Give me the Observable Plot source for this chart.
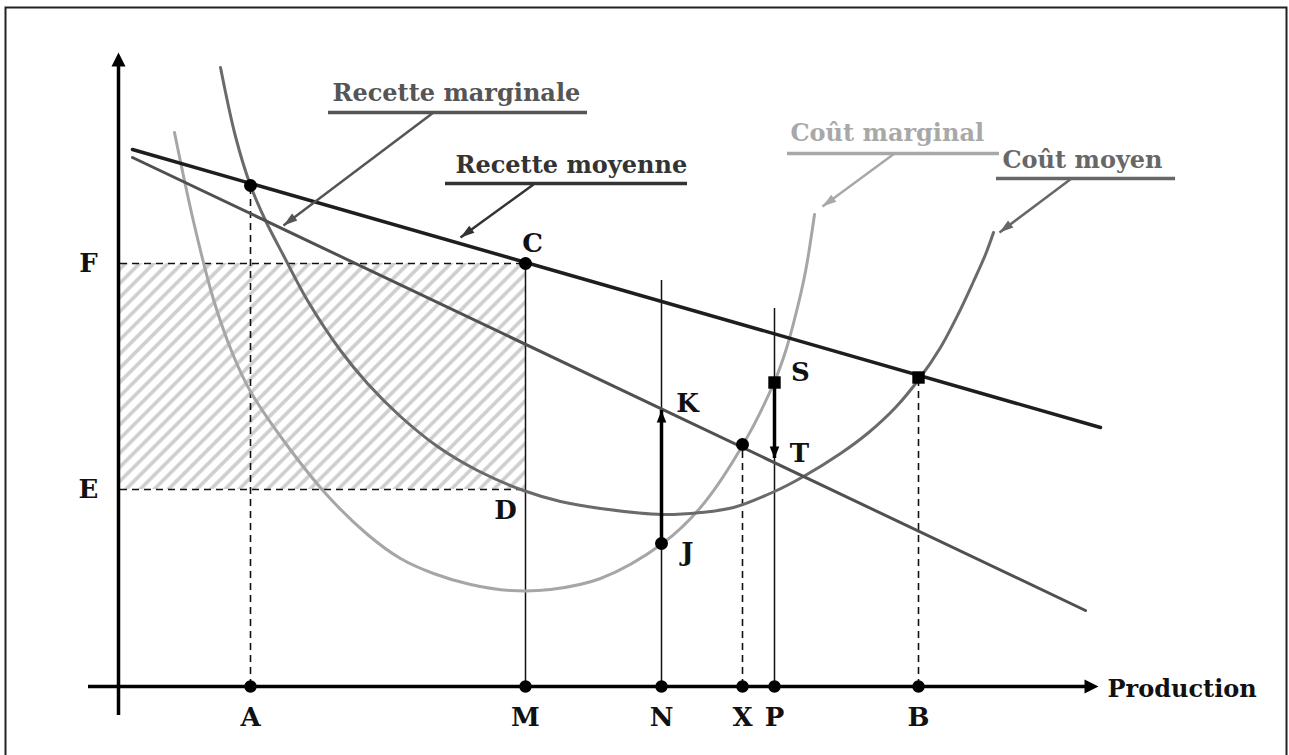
<!DOCTYPE html>
<html><head><meta charset="utf-8">
<script src="https://cdn.jsdelivr.net/npm/d3@7"></script>
<script src="https://cdn.jsdelivr.net/npm/@observablehq/plot@0.6"></script>
<style>html,body{margin:0;padding:0;background:#fff;overflow:hidden}</style>
</head><body><div id="chart"></div>
<script>
// ---------- data (production q, price/cost v) ----------
const axisLetters = ["A", "M", "N", "X", "P", "B"];
const axisQ = [13.2, 40.7, 54.3, 62.4, 65.6, 80.0];

const levelLetters = ["F", "E"];
const levelV = [42.3, 19.7];

// Recette moyenne (demand) and Recette marginale lines
const recMoyQ = [1.4, 98.2];
const recMoyV = [53.7, 25.9];
const recMargQ = [1.4, 96.7];
const recMargV = [52.9, 7.6];

// Coût marginal curve
const coutMargQ = [5.6, 7.5, 9.5, 11.4, 13.2, 16.5, 20.8, 24.9, 28.2, 31.5, 35.2, 39.2, 43.2, 48.2, 54.4, 58.2, 62.4, 65.6, 66.7, 67.8, 68.7, 69.6];
const coutMargV = [55.4, 46.5, 38.7, 33.3, 29.5, 24.6, 19.2, 15.2, 12.8, 11.3, 10.2, 9.6, 9.7, 10.8, 14.3, 17.9, 24.1, 30.5, 33.5, 37.5, 41.5, 47.2];

// Coût moyen curve
const coutMoyQ = [10.2, 11.7, 13.2, 14.7, 16.5, 18.9, 22.2, 24.9, 28.2, 31.9, 35.9, 40.5, 44.2, 48.2, 54.4, 58.2, 61.5, 65.6, 68.5, 72.2, 74.9, 77.7, 80.1, 82.2, 84.0, 85.5, 86.7, 87.5];
const coutMoyV = [61.9, 55.0, 50.1, 46.6, 43.1, 38.6, 33.6, 30.3, 27.0, 24.0, 21.6, 19.6, 18.5, 17.8, 17.2, 17.4, 17.9, 19.5, 21.0, 23.3, 25.3, 27.9, 30.8, 33.9, 37.3, 40.5, 43.2, 45.4];

// marked points
const roundQ = [13.2, 40.7, 62.4, 54.3];
const roundV = [50.1, 42.3, 24.2, 14.3];
const squareQ = [65.6, 80.0];
const squareV = [30.4, 30.9];

// vertical guides
const dashedQ = [13.2, 62.4, 80.0];
const dashedTop = [50.1, 24.2, 30.9];
const solidQ = [40.7, 54.3, 65.6];
const solidTop = [42.3, 40.6, 37.8];

// thick arrows J->K (up) and S->T (down)
const moveQ = [54.3, 65.6];
const moveFrom = [14.3, 30.4];
const moveTo = [27.6, 22.8];

// point letters
const pointLetters = ["C", "K", "J", "S", "T", "D"];
const pointQ = [41.4, 56.9, 56.9, 68.2, 68.1, 38.7];
const pointV = [44.3, 28.3, 13.4, 31.4, 23.3, 17.6];

// curve labels
const labelTexts = ["Recette marginale", "Recette moyenne", "Coût marginal", "Coût moyen"];
const labelColors = ["#555555", "#333333", "#a8a8a8", "#676767"];
const labelQ = [45.5, 56.9, 88.85, 108.4].map((v, i) => v); // right edges of labels
const labelV = [59.3, 52.1, 55.3, 52.6];
const underlineV = [57.4, 50.3, 53.3, 50.8];
const underlineQ1 = [21.0, 32.7, 66.9, 87.8];
const underlineQ2 = [46.9, 56.9, 88.1, 105.7];
const pointerFromQ = [31.5, 41.5, 77.6, 95.3];
const pointerFromV = [57.4, 50.2, 53.3, 50.8];
const pointerToQ = [16.5, 34.2, 70.4, 88.1];
const pointerToV = [46.1, 44.9, 48.0, 45.4];
const labelLeftQ = [21.4, 33.7, 67.2, 88.4];

// ---------- build tables ----------
const pts = (Q, V) => Q.map((q, i) => ({q, v: V[i]}));
const labels = labelTexts.map((t, i) => ({
  t, color: labelColors[i], q: labelLeftQ[i], v: labelV[i], uv: underlineV[i],
  q1: underlineQ1[i], q2: underlineQ2[i],
  fq: pointerFromQ[i], fv: pointerFromV[i], tq: pointerToQ[i], tv: pointerToV[i],
  rot: Math.atan2(pointerToQ[i] - pointerFromQ[i], pointerToV[i] - pointerFromV[i]) * 180 / Math.PI
}));
const axisPts = axisLetters.map((l, i) => ({l, q: axisQ[i]}));
const levels = levelLetters.map((l, i) => ({l, v: levelV[i]}));
const moves = moveQ.map((q, i) => ({q, a: moveFrom[i], b: moveTo[i], rot: moveTo[i] > moveFrom[i] ? 0 : 180}));

const FONT = "DejaVu Serif";
const head = (len, wid) => ({
  draw(ctx, size) {
    const r = Math.sqrt(size / Math.PI);
    ctx.moveTo(0, 0);
    ctx.lineTo(-r * wid / 2, r * len);
    ctx.lineTo(r * wid / 2, r * len);
    ctx.closePath();
  }
});
const axisHead = head(2, 2);
const smallHead = head(2, 1.6);
const pointerHead = head(2, 1.25);

const svg = Plot.plot({
  width: 1289, height: 755, margin: 0,
  x: {domain: [-11.8, 117.1], axis: null},
  y: {domain: [-6.9, 68.6], axis: null},
  style: {background: "#fff"},
  marks: [
    Plot.frame({stroke: "#222", strokeWidth: 2, insetLeft: 5, insetTop: 7, insetRight: 3, insetBottom: -6}),
    // shaded area (profit)
    Plot.rect([{q1: 0.2, q2: axisQ[1], v1: levelV[1], v2: levelV[0]}], {x1: "q1", x2: "q2", y1: "v1", y2: "v2", fill: "url(#hatch)"}),
    // dashed guides
    Plot.ruleY(levels, {y: "v", x1: 0.2, x2: axisQ[1], stroke: "#111", strokeWidth: 1.6, strokeDasharray: "7,5"}),
    Plot.ruleX(dashedQ.map((q, i) => ({q, top: dashedTop[i]})), {x: "q", y1: 0, y2: "top", stroke: "#111", strokeWidth: 1.6, strokeDasharray: "7,5"}),
    // thin solid verticals
    Plot.ruleX(solidQ.map((q, i) => ({q, top: solidTop[i]})), {x: "q", y1: 0, y2: "top", stroke: "#111", strokeWidth: 1.5}),
    // curves
    Plot.line(pts(coutMargQ, coutMargV), {x: "q", y: "v", curve: "catmull-rom", stroke: "#a6a6a6", strokeWidth: 3}),
    Plot.line(pts(coutMoyQ, coutMoyV), {x: "q", y: "v", curve: "catmull-rom", stroke: "#6a6a6a", strokeWidth: 3}),
    Plot.line(pts(recMargQ, recMargV), {x: "q", y: "v", stroke: "#505050", strokeWidth: 3}),
    Plot.line(pts(recMoyQ, recMoyV), {x: "q", y: "v", stroke: "#1e1e1e", strokeWidth: 3.5}),
    // axes
    Plot.ruleY([0], {x1: -3.0, x2: 97.0, stroke: "#000", strokeWidth: 3.5}),
    Plot.ruleX([0], {y1: -2.9, y2: 62.0, stroke: "#000", strokeWidth: 3.5}),
    Plot.dot([{q: 98.0, v: 0, r: 90}, {q: 0, v: 63.4, r: 0}], {x: "q", y: "v", rotate: "r", symbol: axisHead, r: 7, fill: "#000", stroke: "none"}),
    Plot.text(["Production"], {x: 98.9, y: -0.3, text: d => d, textAnchor: "start", fontFamily: FONT, fontSize: 24, fontWeight: "bold", fill: "#111"}),
    // movement arrows
    Plot.ruleX(moves, {x: "q", y1: "a", y2: "b", stroke: "#000", strokeWidth: 3.5}),
    Plot.dot(moves, {x: "q", y: "b", rotate: "rot", symbol: smallHead, r: 6, fill: "#000", stroke: "none"}),
    // points
    Plot.dot(axisPts, {x: "q", y: 0, r: 6.2, fill: "#000"}),
    Plot.dot(pts(roundQ, roundV), {x: "q", y: "v", r: 6.5, fill: "#000"}),
    Plot.dot(pts(squareQ, squareV), {x: "q", y: "v", r: 7, symbol: "square", fill: "#000"}),
    // letters
    Plot.text(axisPts, {x: "q", y: -3.1, text: "l", fontFamily: FONT, fontSize: 26, fontWeight: "bold", fill: "#111"}),
    Plot.text(levels, {x: -3.0, y: "v", text: "l", fontFamily: FONT, fontSize: 26, fontWeight: "bold", fill: "#111"}),
    Plot.text(pointLetters.map((l, i) => ({l, q: pointQ[i], v: pointV[i]})), {x: "q", y: "v", text: "l", fontFamily: FONT, fontSize: 26, fontWeight: "bold", fill: "#111"}),
    // curve labels with underline and pointer
    Plot.text(labels, {x: "q", y: "v", text: "t", fill: "color", textAnchor: "start", fontFamily: FONT, fontSize: 24, fontWeight: "bold"}),
    Plot.ruleY(labels, {y: "uv", x1: "q1", x2: "q2", stroke: "color", strokeWidth: 3.5}),
    Plot.link(labels, {x1: "fq", y1: "fv", x2: "tq", y2: "tv", stroke: "color", strokeWidth: 2.5}),
    Plot.dot(labels, {x: "tq", y: "tv", rotate: "rot", symbol: pointerHead, r: 7, fill: "color", stroke: "none"})
  ]
});

// hatch pattern definition
const defs = d3.select(svg).insert("defs", ":first-child");
const pat = defs.append("pattern").attr("id", "hatch").attr("patternUnits", "userSpaceOnUse")
  .attr("width", 10).attr("height", 10).attr("patternTransform", "rotate(45)");
pat.append("rect").attr("width", 10).attr("height", 10).attr("fill", "#fff");
pat.append("line").attr("x1", 5).attr("y1", 0).attr("x2", 5).attr("y2", 10)
  .attr("stroke", "#cdcdcd").attr("stroke-width", 3.5);

document.getElementById("chart").appendChild(svg);
</script>
</body></html>
